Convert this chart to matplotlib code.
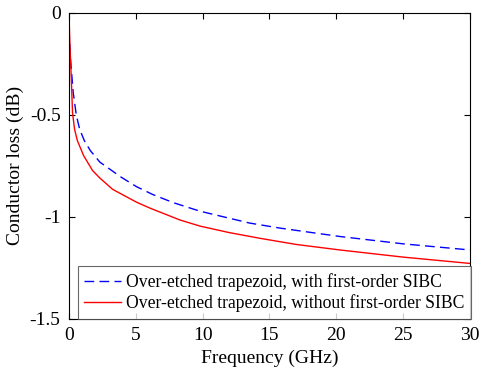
import matplotlib
matplotlib.use('Agg')
import matplotlib.pyplot as plt

# frequency (GHz) and conductor loss (dB)
freq_blue = [0, 0.12, 0.32, 0.55, 0.8, 1.15, 1.6, 2.32, 3.9, 5.06, 6.26, 7.8, 9.8,
             13.5, 15.8, 20.27, 25, 30]
loss_blue = [-0.08, -0.23, -0.39, -0.50, -0.57, -0.626, -0.675, -0.732, -0.805,
             -0.852, -0.89, -0.93, -0.972, -1.03, -1.055, -1.096, -1.132, -1.162]

freq_red = [0, 0.07, 0.17, 0.27, 0.42, 0.63, 1.1, 1.77, 2.32, 3.27, 5.06, 6.1, 8.3,
            9.8, 12, 14.3, 17, 20.27, 25, 30]
loss_red = [0, -0.15, -0.31, -0.49, -0.57, -0.626, -0.70, -0.773, -0.81, -0.865,
            -0.928, -0.958, -1.015, -1.045, -1.077, -1.105, -1.135, -1.162, -1.197,
            -1.228]

labels = ['Over-etched trapezoid, with first-order SIBC',
          'Over-etched trapezoid, without first-order SIBC']
xticks = [0, 5, 10, 15, 20, 25, 30]
yticks = [-1.5, -1, -0.5, 0]
ytick_labels = ['-1.5', '-1', '-0.5', '0']

plt.rcParams['font.family'] = ['Liberation Serif', 'DejaVu Serif']

fig = plt.figure(figsize=(4.82, 3.77), dpi=100)
ax = fig.add_axes([0.143, 0.154, 0.832, 0.812])

ax.plot(freq_blue, loss_blue, color='#0000ff', lw=1.0, ls=(0, (7, 3.8)), label=labels[0])
ax.plot(freq_red, loss_red, color='#ff0000', lw=1.0, label=labels[1])

ax.set_xlim(0, 30)
ax.set_ylim(-1.5, 0)
ax.set_xticks(xticks)
ax.set_yticks(yticks)
ax.set_yticklabels(ytick_labels)
ax.tick_params(direction='in', top=True, right=True, labelsize=14, length=4, pad=6)
ax.set_xlabel('Frequency (GHz)', fontsize=14)
ax.set_ylabel('Conductor loss (dB)', fontsize=14)
for s in ax.spines.values():
    s.set_linewidth(0.8)

leg = ax.legend(loc='lower left', bbox_to_anchor=(0.022, 0.0), fontsize=12.7,
                frameon=True, fancybox=False, edgecolor='#444444',
                borderpad=0.38, labelspacing=0.2, handlelength=2.1,
                handletextpad=0.25, borderaxespad=0.0)
leg.get_frame().set_linewidth(0.8)

fig.savefig('out.png', dpi=100)
